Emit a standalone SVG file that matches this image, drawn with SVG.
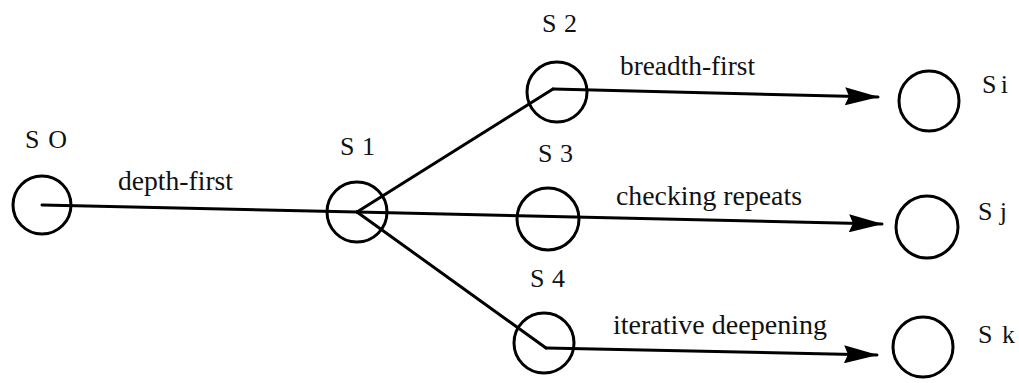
<svg xmlns="http://www.w3.org/2000/svg" width="1019" height="383" viewBox="0 0 1019 383">
<style>
.node{fill:none;stroke:#000;stroke-width:3}
.edge{fill:none;stroke:#000;stroke-width:3;stroke-linecap:round;stroke-linejoin:round}
.el{font-family:'Liberation Serif',serif;font-size:27px;fill:#111}
.nl{font-family:'Liberation Serif',serif;font-size:26px;fill:#111}
</style>
<defs>
<marker id="arr" markerUnits="userSpaceOnUse" viewBox="0 0 34 18" refX="33" refY="9" markerWidth="34" markerHeight="18" orient="auto">
<path d="M0,0 L34,9 L0,18 L4,9 z" fill="#000"/>
</marker>
</defs>
<rect width="1019" height="383" fill="#fff"/>
<g id="connectors">
<line class="edge" x1="42" y1="205" x2="357" y2="212"/>
<text class="el" style="font-family:'Liberation Serif',serif;font-size:27px" x="118" y="190" textLength="115" lengthAdjust="spacingAndGlyphs">depth-first</text>
<line class="edge" x1="357" y1="212" x2="553" y2="89"/>
<line class="edge" x1="553" y1="89" x2="878" y2="97" marker-end="url(#arr)"/>
<text class="el" style="font-family:'Liberation Serif',serif;font-size:27px" x="620" y="75" textLength="135" lengthAdjust="spacingAndGlyphs">breadth-first</text>
<line class="edge" x1="357" y1="212" x2="882" y2="224" marker-end="url(#arr)"/>
<text class="el" style="font-family:'Liberation Serif',serif;font-size:27px" x="616" y="205" textLength="186" lengthAdjust="spacingAndGlyphs">checking repeats</text>
<line class="edge" x1="357" y1="212" x2="546" y2="348"/>
<line class="edge" x1="546" y1="348" x2="877" y2="355" marker-end="url(#arr)"/>
<text class="el" style="font-family:'Liberation Serif',serif;font-size:27px" x="613" y="334" textLength="214" lengthAdjust="spacingAndGlyphs">iterative deepening</text>
</g>
<g id="S0"><circle class="node" cx="42" cy="205" r="29"/><text class="nl" style="font-size:26px" x="25" y="148" textLength="42" lengthAdjust="spacing">S O</text></g>
<g id="S1"><circle class="node" cx="357" cy="212" r="30"/><text class="nl" style="font-size:26px" x="340" y="155" textLength="35" lengthAdjust="spacing">S 1</text></g>
<g id="S2"><circle class="node" cx="557" cy="92" r="30"/><text class="nl" style="font-size:26px" x="542" y="32" textLength="35" lengthAdjust="spacing">S 2</text></g>
<g id="S3"><circle class="node" cx="548" cy="219" r="31"/><text class="nl" style="font-size:26px" x="538" y="162" textLength="35" lengthAdjust="spacing">S 3</text></g>
<g id="S4"><circle class="node" cx="544" cy="343" r="30"/><text class="nl" style="font-size:26px" x="530" y="287" textLength="35" lengthAdjust="spacing">S 4</text></g>
<g id="Si"><circle class="node" cx="929" cy="101" r="30"/><text class="nl" style="font-size:26px" x="982" y="93" textLength="26" lengthAdjust="spacing">S i</text></g>
<g id="Sj"><circle class="node" cx="927" cy="227" r="31"/><text class="nl" style="font-size:26px" x="978" y="220" textLength="29" lengthAdjust="spacing">S j</text></g>
<g id="Sk"><circle class="node" cx="923" cy="347" r="30"/><text class="nl" style="font-size:26px" x="978" y="343" textLength="37" lengthAdjust="spacing">S k</text></g>
</svg>
